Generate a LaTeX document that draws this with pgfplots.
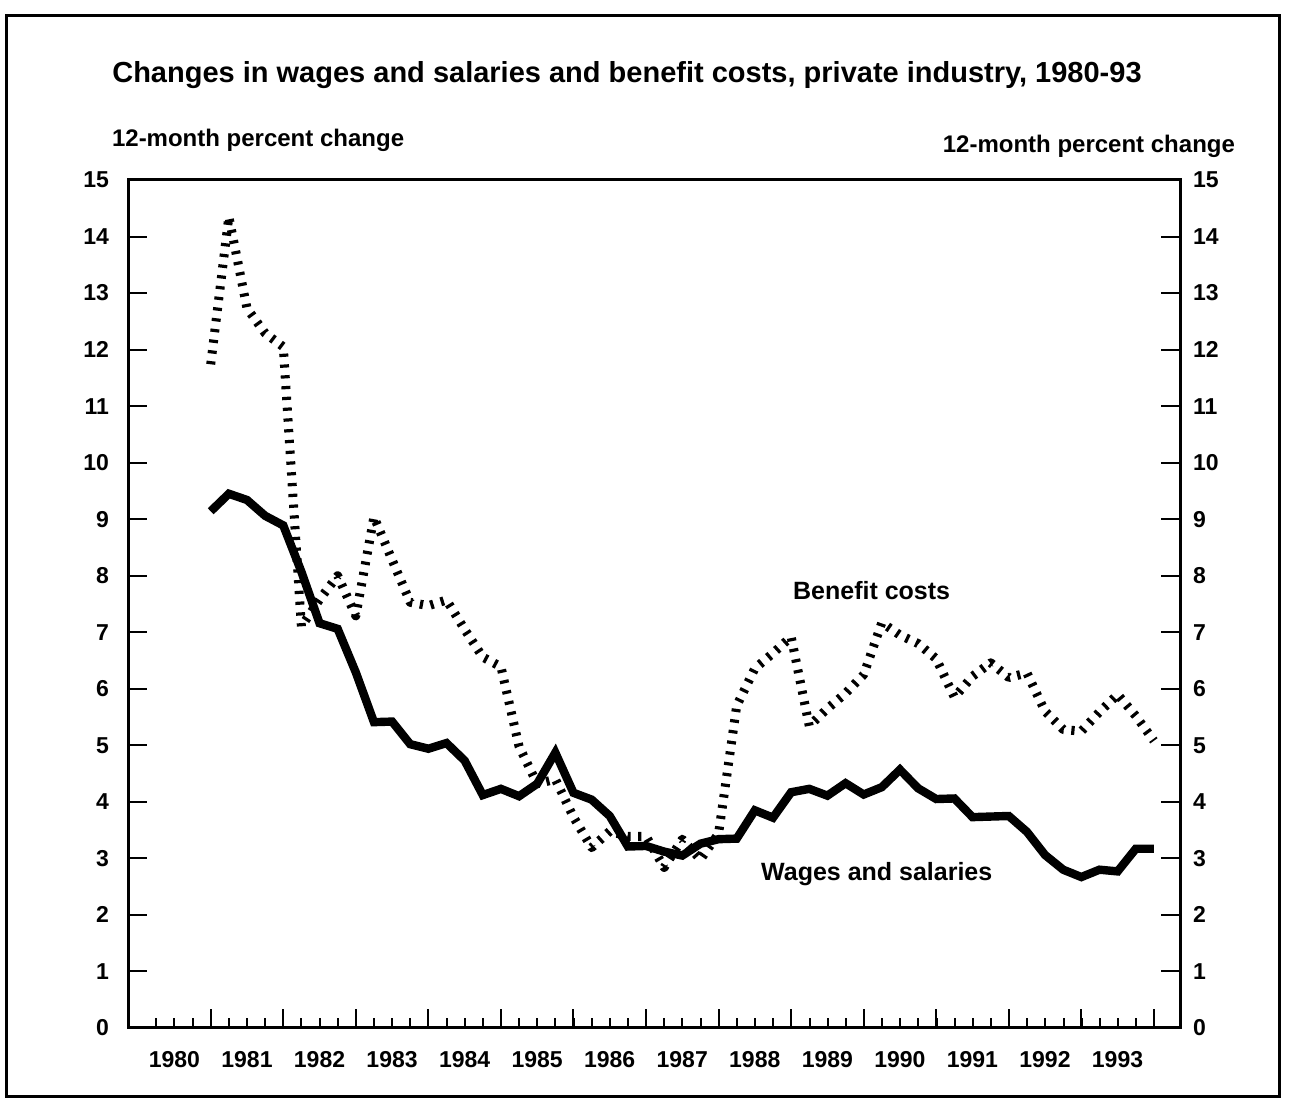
\documentclass[border=0pt]{standalone}
\usepackage{fontspec}
\setmainfont{Liberation Sans}
\usepackage{pgfplots}
\pgfplotsset{compat=1.18}
\usepackage{pgfplotstable}
\pgfplotstableread{
x wages benefits
1981.00 9.14 11.74
1981.25 9.45 14.35
1981.50 9.34 12.73
1981.75 9.06 12.29
1982.00 8.89 12.05
1982.25 8.07 7.10
1982.50 7.16 7.58
1982.75 7.06 8.00
1983.00 6.29 7.29
1983.25 5.41 9.04
1983.50 5.42 8.28
1983.75 5.02 7.53
1984.00 4.94 7.47
1984.25 5.04 7.57
1984.50 4.73 7.05
1984.75 4.12 6.56
1985.00 4.23 6.39
1985.25 4.10 4.98
1985.50 4.32 4.32
1985.75 4.87 4.40
1986.00 4.16 3.73
1986.25 4.04 3.19
1986.50 3.75 3.48
1986.75 3.21 3.39
1987.00 3.22 3.39
1987.25 3.12 2.84
1987.50 3.05 3.34
1987.75 3.26 2.98
1988.00 3.34 3.44
1988.25 3.35 5.70
1988.50 3.85 6.36
1988.75 3.72 6.63
1989.00 4.17 6.92
1989.25 4.23 5.34
1989.50 4.11 5.65
1989.75 4.33 5.92
1990.00 4.13 6.25
1990.25 4.26 7.17
1990.50 4.57 6.95
1990.75 4.24 6.80
1991.00 4.05 6.53
1991.25 4.06 5.85
1991.50 3.73 6.22
1991.75 3.74 6.46
1992.00 3.75 6.20
1992.25 3.47 6.28
1992.50 3.06 5.60
1992.75 2.80 5.28
1993.00 2.67 5.25
1993.25 2.80 5.59
1993.50 2.77 5.90
1993.75 3.17 5.52
1994.00 3.17 5.08
}\data

\begin{document}
\begin{tikzpicture}
\path[use as bounding box] (0pt,0pt) rectangle (653pt,559pt);
\draw[line width=1.5pt] (3pt,10.5pt) rectangle (639.5pt,551pt);
\node[font=\bfseries\fontsize{14.5}{16}\selectfont] at (313.5pt,521.5pt) {Changes in wages and salaries and benefit costs, private industry, 1980-93};
\node[font=\bfseries\fontsize{12}{14}\selectfont, anchor=west] at (52.5pt,489pt) {12-month percent change};
\node[font=\bfseries\fontsize{12}{14}\selectfont, anchor=east] at (621pt,486pt) {12-month percent change};

\begin{axis}[
  at={(64pt,45pt)}, anchor=south west,
  width=526pt, height=424pt, scale only axis,
  xmin=1979.86, xmax=1994.36,
  ymin=0, ymax=15,
  axis line style={line width=1.5pt},
  tick align=inside,
  xtick pos=bottom, ytick pos=left,
  xtick={1981,...,1994}, xticklabels={},
  minor xtick={1980.25,1980.5,...,1993.75},
  extra x ticks={1980.5,1981.5,...,1993.5},
  extra x tick labels={1980,1981,1982,1983,1984,1985,1986,1987,1988,1989,1990,1991,1992,1993},
  extra x tick style={major tick length=0pt},
  ytick={0,1,...,15},
  major tick length=9.5pt,
  minor tick length=5pt,
  major tick style={line width=1pt, black},
  minor tick style={line width=1pt, black},
  /pgf/number format/assume math mode=true,
  ticklabel style={font=\bfseries\fontsize{11.5}{13}\selectfont},
  xticklabel style={yshift=-8pt},
  yticklabel style={xshift=-6pt},
  clip=false,
]
\addplot[black, line width=4.5pt, dash pattern=on 1.6pt off 3.8pt, line cap=butt, line join=round] table[x=x, y=benefits] {\data};
\addplot[black, line width=4.2pt, line join=miter, miter limit=4, line cap=butt] table[x=x, y=wages] {\data};
\node[font=\bfseries\fontsize{12.5}{14}\selectfont] at (axis cs:1990.11,7.74) {Benefit costs};
\node[font=\bfseries\fontsize{12.5}{14}\selectfont] at (axis cs:1990.18,2.72) {Wages and salaries};
\end{axis}

\begin{axis}[
  at={(64pt,45pt)}, anchor=south west,
  width=526pt, height=424pt, scale only axis,
  xmin=1979.86, xmax=1994.36,
  ymin=0, ymax=15,
  hide x axis,
  axis y line*=right,
  axis line style={line width=1.5pt},
  tick align=inside,
  ytick={0,1,...,15},
  major tick length=9.5pt,
  major tick style={line width=1pt, black},
  /pgf/number format/assume math mode=true,
  ticklabel style={font=\bfseries\fontsize{11.5}{13}\selectfont},
  yticklabel style={anchor=west, xshift=3pt},
]
\addplot[draw=none] coordinates {(1981,0)};
\end{axis}
\end{tikzpicture}
\end{document}
